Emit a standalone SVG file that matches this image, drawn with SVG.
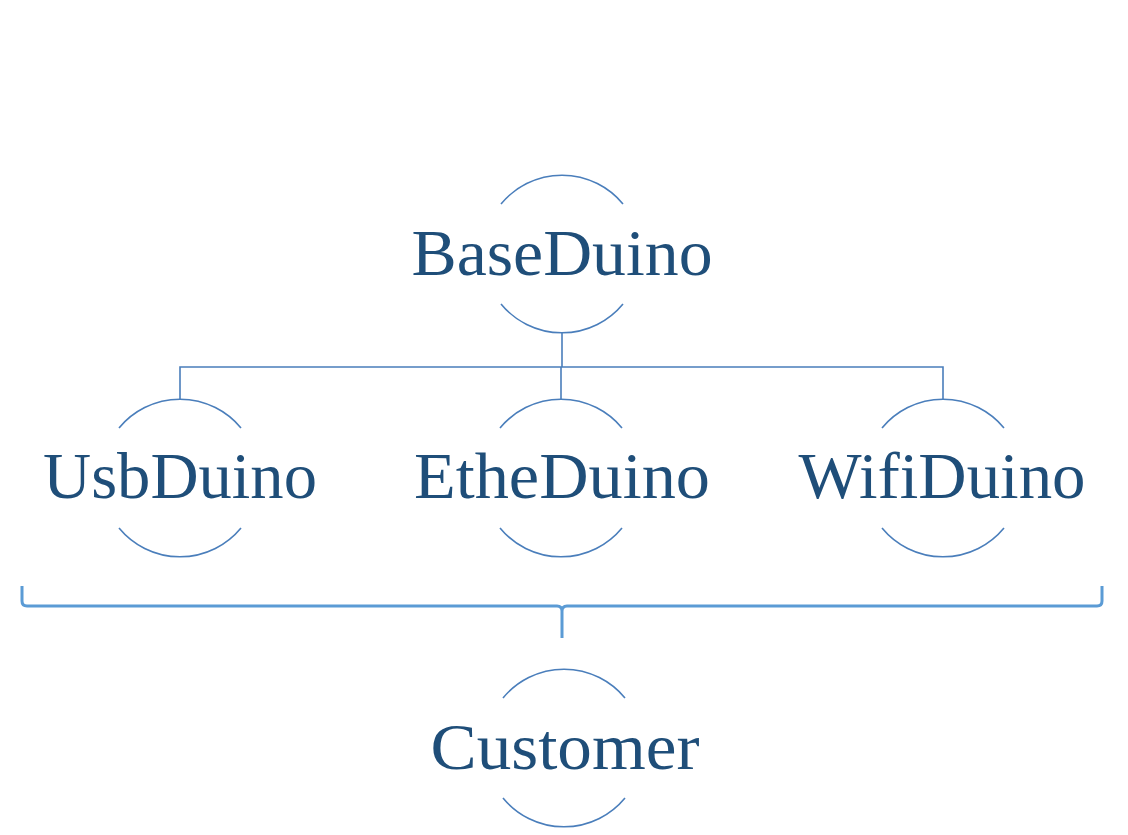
<svg xmlns="http://www.w3.org/2000/svg" width="1128" height="835" viewBox="0 0 1128 835">
<style>
.arc{fill:none;stroke:#4A7EBB;stroke-width:1.6}
.conn{fill:none;stroke:#4A7EBB;stroke-width:1.6}
.brace{fill:none;stroke:#5B9BD5;stroke-width:3;stroke-linecap:butt;stroke-linejoin:round}
.lbl{font-family:"Liberation Serif","Times New Roman",serif;font-size:66px;fill:#1F4E79;text-anchor:middle}
</style>
<rect width="1128" height="835" fill="#ffffff"/>
<g id="connectors">
<path class="conn" d="M562,333 V367 M180,399 V367 H943 V399 M561,367 V399"/>
<path class="brace" d="M22,586 V601 Q22,606 27,606 H557 Q562,606 562,611 V638 M562,611 Q562,606 567,606 H1097 Q1102,606 1102,601 V586"/>
</g>
<g id="node-baseduino">
<path class="arc" d="M501,204 A79,79 0 0 1 623,204"/>
<path class="arc" d="M501,304 A79,79 0 0 0 623,304"/>
<text class="lbl" x="562" y="275" textLength="301" lengthAdjust="spacingAndGlyphs">BaseDuino</text>
</g>
<g id="node-usbduino">
<path class="arc" d="M119,428 A79,79 0 0 1 241,428"/>
<path class="arc" d="M119,528 A79,79 0 0 0 241,528"/>
<text class="lbl" x="180" y="498" textLength="274" lengthAdjust="spacingAndGlyphs">UsbDuino</text>
</g>
<g id="node-etheduino">
<path class="arc" d="M500,428 A79,79 0 0 1 622,428"/>
<path class="arc" d="M500,528 A79,79 0 0 0 622,528"/>
<text class="lbl" x="562" y="498" textLength="296" lengthAdjust="spacingAndGlyphs">EtheDuino</text>
</g>
<g id="node-wifiduino">
<path class="arc" d="M882,428 A79,79 0 0 1 1004,428"/>
<path class="arc" d="M882,528 A79,79 0 0 0 1004,528"/>
<text class="lbl" x="942" y="498" textLength="287" lengthAdjust="spacingAndGlyphs">WifiDuino</text>
</g>
<g id="node-customer">
<path class="arc" d="M503,698 A79,79 0 0 1 625,698"/>
<path class="arc" d="M503,798 A79,79 0 0 0 625,798"/>
<text class="lbl" x="565" y="769" textLength="269" lengthAdjust="spacingAndGlyphs">Customer</text>
</g>
</svg>
